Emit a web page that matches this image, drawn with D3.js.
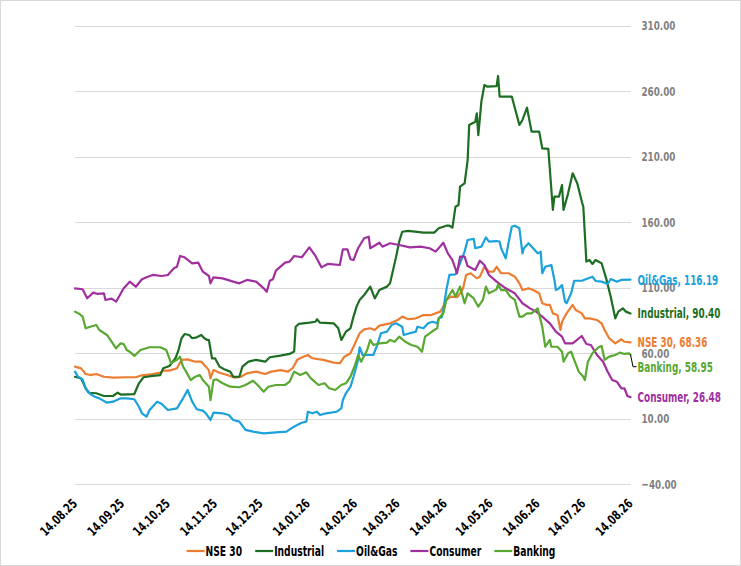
<!DOCTYPE html>
<html>
<head>
<meta charset="utf-8">
<script src="https://cdn.jsdelivr.net/npm/d3@7/dist/d3.min.js"></script>
<style>
  html, body { margin: 0; padding: 0; background: #fff; }
  svg { display: block; }
  text { font-family: "DejaVu Sans Condensed", "DejaVu Sans", sans-serif; font-stretch: condensed; font-weight: bold; }
</style>
</head>
<body>
<svg id="chart" width="741" height="566"></svg>
<script>
// ---------- data (day offset from 14.08.25, index value) ----------
const startDate = "14.08.25";
const xTickLabels = ["14.08.25","14.09.25","14.10.25","14.11.25","14.12.25","14.01.26","14.02.26","14.03.26","14.04.26","14.05.26","14.06.26","14.07.26","14.08.26"];
const yTicks = [-40, 10, 60, 110, 160, 210, 260, 310];
const seriesNames = ["NSE 30", "Industrial", "Oil&Gas", "Consumer", "Banking"];
const seriesColors = ["#ED7D31", "#1D6E22", "#1BA1DC", "#A0309F", "#58A832"];
const endValues = [68.36, 90.40, 116.19, 26.48, 58.95];

const nse30 = [[0,49.8],[4,48.5],[7,44.2],[10,43.4],[14,44.2],[19,42.1],[25,41.4],[34,41.7],[40,41.7],[44,43.2],[51,44.2],[56,45.2],[58,46.8],[62,46.8],[67,48.6],[70,55],[74,55.4],[79,53.6],[83,53.6],[86,49.8],[88,47],[89,40.9],[91,47.2],[95,45.2],[100,43.4],[105,41.4],[109,42.1],[113,44.7],[119,46],[125,44.2],[129,46],[135,47.2],[140,46],[143,48.6],[146,55],[150,57.4],[153,58.7],[156,56.2],[163,55],[170,52.9],[174,52.4],[177,57.4],[181,60],[184,67.6],[187,75.3],[190,78.3],[194,79.1],[197,77.8],[200,81.1],[207,82.9],[212,85.4],[215,88],[219,86],[224,86.7],[229,89.2],[234,89.2],[240,91.8],[242,95.6],[244,100.7],[247,103.2],[251,102.8],[253,105.8],[255,109.6],[257,119.8],[260,121.1],[264,117.3],[266,118.5],[269,126.1],[272,122.3],[275,122.3],[277,126.1],[280,121.1],[285,121.1],[287,119.8],[289,118.5],[292,113.4],[294,108.3],[298,109.6],[301,108.3],[305,105.8],[307,98.2],[310,96.9],[312,96.9],[314,90.5],[317,89.3],[319,77.8],[320,84.1],[323,90.5],[327,96.9],[329,93.1],[333,90.5],[335,86.7],[338,86.7],[343,85.4],[346,82.9],[348,77.8],[351,71.5],[355,67.6],[359,70.7],[361,68.8],[365,68.36]];

const industrial = [[0,42.1],[4,40.9],[7,33.3],[9,29.9],[14,29.5],[19,27.4],[25,27.4],[28,29.9],[30,28.5],[39,28.9],[42,37.1],[45,41.7],[51,42.7],[56,43.4],[58,48.6],[62,50.3],[66,56.2],[68,62.5],[70,71.5],[72,74.7],[75,74],[77,71.5],[80,72.2],[83,74],[85,71.5],[87,70.2],[88,70],[90,56.2],[92,56.2],[95,49.8],[98,47.8],[102,46],[104,42.1],[108,42.1],[110,49.8],[114,53.6],[119,55],[125,53.6],[128,57],[135,58.2],[141,59.5],[144,61.3],[145,80.3],[147,82.4],[154,83.4],[158,84.1],[159,86],[161,83.4],[170,82.9],[173,79.1],[175,70.2],[178,76.5],[181,79.1],[183,88],[185,95.6],[187,100.7],[190,104.5],[194,110.9],[197,101.9],[200,108.3],[205,110.9],[207,113.4],[209,123.6],[211,133.8],[213,145.2],[215,152.8],[219,153.4],[229,152.1],[236,152.1],[239,155.4],[244,157.4],[246,157.4],[248,155.9],[250,171.9],[252,173.2],[253,187.2],[256,189.8],[258,207.5],[259,234.3],[263,236.8],[264,243.2],[265,226.6],[267,252],[269,264.8],[271,263.5],[277,264],[278,271.7],[279,256],[287,256],[292,234.3],[294,238.1],[297,247.5],[300,229.2],[305,229.2],[307,216.5],[311,216],[314,169.4],[315,179.6],[318,179.6],[320,188.5],[321,169.4],[324,182.1],[327,197.4],[330,189.8],[333,175.8],[334,171.9],[336,130],[338,131.2],[340,128.2],[342,131.2],[346,128.7],[349,117.2],[352,103.2],[355,86.7],[357,91.8],[360,94.3],[362,91.8],[365,90.40]];

const oilGas = [[0,46],[2,42.1],[5,40.1],[7,33.3],[10,28.9],[13,26.9],[16,25.6],[21,22.3],[25,23.1],[30,25.6],[34,25.6],[39,24.9],[42,19.2],[44,14.2],[47,11.6],[49,16.7],[54,23.1],[57,21.3],[61,16.7],[67,18],[71,25.6],[74,32],[77,23.1],[80,17.3],[84,16.2],[86,14.2],[89,9.1],[91,14.7],[97,14.2],[101,12.9],[104,9.1],[108,7.8],[112,1.5],[117,0.2],[124,-1.1],[132,-0.3],[139,0.2],[142,2.7],[146,5.3],[149,7],[152,7.8],[153,15.4],[156,14.2],[159,15.4],[161,12.9],[165,14.2],[172,15.4],[175,18],[176,24.3],[178,29.5],[181,34.5],[183,42.1],[186,54.9],[187,64.6],[189,58.7],[196,58.7],[199,67.6],[201,75.3],[205,76.5],[208,81.6],[211,82.9],[215,80.3],[216,74],[220,75.3],[224,76.5],[225,80.3],[229,79.1],[232,82.9],[235,84.1],[238,82.9],[239,86.7],[241,87.5],[242,93.1],[244,108.3],[246,119.8],[250,120.3],[253,128.7],[256,137.6],[258,146.5],[262,147.3],[263,140.2],[267,141.4],[270,148.5],[272,145.2],[277,145.7],[279,145.2],[280,140.2],[283,132.5],[285,145.2],[287,156.6],[289,157.4],[292,155.4],[294,136.3],[295,140.2],[298,144],[301,140.2],[304,136.3],[306,137.6],[307,121.1],[309,126.1],[313,127.4],[315,116],[316,108.3],[318,109.6],[320,112.1],[322,99.4],[323,98.2],[326,105.8],[328,115.4],[333,115.4],[336,116.7],[340,118.5],[342,115.2],[346,114.7],[350,112.9],[352,116.7],[356,114.7],[359,116],[365,116.19]];

const consumer = [[0,109.6],[5,108.9],[8,102],[12,106.3],[15,105.3],[19,105.8],[20,100.7],[24,101.7],[27,99.4],[32,109.6],[36,114.7],[40,110.8],[44,116.5],[47,118],[51,119.8],[57,119],[61,119.8],[65,124.9],[67,126.1],[69,134.3],[72,133.3],[77,128.7],[81,129.2],[84,122.3],[88,119],[89,113.4],[91,118],[97,117.2],[104,114.7],[108,113.4],[113,116],[119,114.7],[124,109.6],[126,107],[128,115.4],[130,116.5],[132,123.1],[138,129.2],[141,130],[144,134.3],[149,133.3],[154,140.9],[158,134.3],[162,125.6],[166,128.2],[174,127.4],[176,139.4],[179,139.4],[181,131.8],[183,131.2],[186,140.2],[190,147.8],[193,149],[194,140.2],[200,144.4],[202,141.4],[207,144],[213,142.7],[220,140.9],[227,141.4],[233,140.2],[237,137.6],[242,144.4],[245,136.3],[248,131.2],[251,121.1],[253,133.8],[256,133.8],[258,126.6],[263,123.6],[266,130.7],[269,127.4],[272,119.8],[277,114.7],[283,109.6],[289,105.8],[294,98.2],[299,94.3],[303,91.8],[307,88],[312,82.9],[316,76.5],[320,72.7],[322,67.6],[327,67.6],[333,73.2],[336,67.1],[339,66.3],[343,58.7],[347,53.6],[350,45.9],[353,39.6],[356,38.3],[359,33.3],[361,33.3],[363,27.4],[365,26.48]];

const banking = [[0,91.8],[3,90],[5,88],[7,79.1],[10,80.3],[14,81.6],[16,77.8],[21,74],[24,68.9],[27,63.8],[30,67.6],[32,67.1],[34,62.5],[36,61.2],[39,58],[43,62.5],[49,64.6],[56,64.6],[60,62.5],[62,56.2],[63,52.4],[67,55],[69,57.4],[71,49.8],[73,46],[76,39.6],[79,42.1],[82,43.4],[84,39.6],[88,34.5],[89,24.3],[91,39.6],[93,40.1],[97,37.1],[102,34.5],[108,34.1],[112,35.8],[117,39.1],[120,35.8],[124,30.7],[127,34.5],[132,35.8],[138,35.8],[141,38.3],[144,46],[148,43.4],[152,45.5],[155,40.9],[160,35.8],[164,37.1],[167,33.3],[171,32],[175,35.8],[178,37.1],[181,42.1],[184,51.1],[186,58.7],[188,53.6],[192,62.5],[194,70.2],[196,66.3],[200,67.6],[205,68.1],[207,70.2],[210,68.8],[213,72.7],[217,68.8],[221,66.3],[225,65],[228,61.2],[230,72.7],[233,75.3],[236,77.8],[238,79.1],[239,86.7],[242,90.5],[244,100.7],[246,104.5],[248,108.3],[250,103.3],[253,110.9],[256,98.2],[258,105.8],[262,101.9],[265,95.6],[268,100.7],[270,110.9],[272,105.8],[277,108.8],[278,112.6],[280,108.3],[283,108.3],[286,103.3],[289,100.7],[292,88],[294,88],[297,90.5],[300,90.5],[304,94.3],[307,80.3],[309,65],[312,70.2],[313,65],[317,65],[320,61.2],[321,53.6],[324,60],[326,61.2],[328,55],[331,46],[334,42.1],[335,39.6],[337,53.6],[340,60],[344,64.6],[346,65.6],[348,55],[351,57.5],[355,58.7],[358,60.5],[361,59.5],[364,60],[365,58.95]];

const seriesData = [nse30, industrial, oilGas, consumer, banking];

// ---------- layout ----------
const W = 741, H = 566;
const plot = { left: 75, right: 630.5, top: 25.8, bottom: 484.3 };
const parseTick = d3.timeParse("%d.%m.%y");
const t0 = parseTick(startDate);

const x = d3.scaleTime()
  .domain([t0, parseTick(xTickLabels[xTickLabels.length - 1])])
  .range([plot.left, plot.right]);
const y = d3.scaleLinear()
  .domain([d3.min(yTicks), d3.max(yTicks)])
  .range([plot.bottom, plot.top]);

const svg = d3.select("#chart");

// horizontal squeeze factor so that a sample string has the reference width
function squeeze(sample, size, target) {
  const t = svg.append("text").style("font-size", size + "px").text(sample);
  const w = t.node().getComputedTextLength();
  t.remove();
  return Math.min(1, target / w);
}
const kTick = squeeze("310.00", 13, 34);
const kX = squeeze("14.08.25", 13, 46);
const kLabel = squeeze("Industrial, 90.40", 14, 83);
const kLegend = squeeze("Industrial", 14.5, 50);

svg.append("rect")
  .attr("x", 0.5).attr("y", 0.5).attr("width", W - 1).attr("height", H - 1)
  .attr("fill", "#fff").attr("stroke", "#d9d9d9");

// gridlines
svg.append("g")
  .selectAll("line")
  .data(yTicks)
  .join("line")
  .attr("x1", plot.left).attr("x2", plot.right + 0.5)
  .attr("y1", d => Math.round(y(d)) + 0.5).attr("y2", d => Math.round(y(d)) + 0.5)
  .attr("stroke", "#d9d9d9").attr("stroke-width", 1);

// lines
const line = d3.line()
  .x(d => x(d3.timeDay.offset(t0, d[0])))
  .y(d => y(d[1]));

svg.append("g")
  .selectAll("path")
  .data(seriesData)
  .join("path")
  .attr("d", line)
  .attr("fill", "none")
  .attr("stroke", (d, i) => seriesColors[i])
  .attr("stroke-width", 2.2)
  .attr("stroke-linejoin", "round")
  .attr("stroke-linecap", "round");

// y axis on right
const yAxis = d3.axisRight(y).tickValues(yTicks).tickFormat(d3.format(".2f")).tickSize(0).tickPadding(0);
const gy = svg.append("g").attr("transform", `translate(${plot.right + 11},0)`).call(yAxis);
gy.select(".domain").remove();
gy.selectAll("text")
  .attr("x", 0)
  .attr("transform", `scale(${kTick},1)`)
  .attr("fill", "#7f7f7f")
  .style("font-size", "13px")
  .style("font-weight", "bold")
  .style("font-family", null);

// x axis labels (rotated)
const gx = svg.append("g");
gx.selectAll("text")
  .data(xTickLabels)
  .join("text")
  .attr("transform", d => `translate(${x(parseTick(d)) + 3},${plot.bottom + 20}) rotate(-45) scale(${kX},1)`)
  .attr("text-anchor", "end")
  .attr("fill", "#000")
  .style("font-size", "13px")
  .text(d => d);

// end labels
const labelYs = seriesData.map(s => y(s[s.length - 1][1]));
const labelOffsets = [0, 0, 0, 0, 12];
const gl = svg.append("g");
seriesData.forEach((s, i) => {
  const ly = labelYs[i] + labelOffsets[i];
  if (labelOffsets[i] !== 0) {
    const ex = x(d3.timeDay.offset(t0, s[s.length - 1][0]));
    gl.append("path")
      .attr("d", `M${ex},${labelYs[i]}L${ex + 2.5},${ly}L${ex + 6},${ly}`)
      .attr("fill", "none").attr("stroke", "#000").attr("stroke-width", 1);
  }
  gl.append("text")
    .attr("transform", `translate(${plot.right + 7},${ly}) scale(${kLabel},1)`)
    .attr("dy", "0.35em")
    .attr("fill", seriesColors[i])
    .style("font-size", "14px")
    .text(`${seriesNames[i]}, ${endValues[i].toFixed(2)}`);
});

// legend
const legend = svg.append("g");
const items = legend.selectAll("g").data(seriesNames).join("g");
items.append("line")
  .attr("x1", 0).attr("x2", 18).attr("y1", 0).attr("y2", 0)
  .attr("stroke", (d, i) => seriesColors[i]).attr("stroke-width", 2.2);
items.append("text")
  .attr("transform", `translate(19,0) scale(${kLegend},1)`)
  .attr("dy", "0.35em")
  .attr("fill", "#000")
  .style("font-size", "14.5px")
  .text(d => d);
const gap = 13;
const widths = [];
items.each(function() { widths.push(19 + kLegend * d3.select(this).select("text").node().getComputedTextLength()); });
const total = d3.sum(widths) + gap * (widths.length - 1);
let start = 371 - total / 2;
items.attr("transform", (d, i) => {
  const tx = start;
  start += widths[i] + gap;
  return `translate(${tx},551)`;
});
</script>
</body>
</html>
